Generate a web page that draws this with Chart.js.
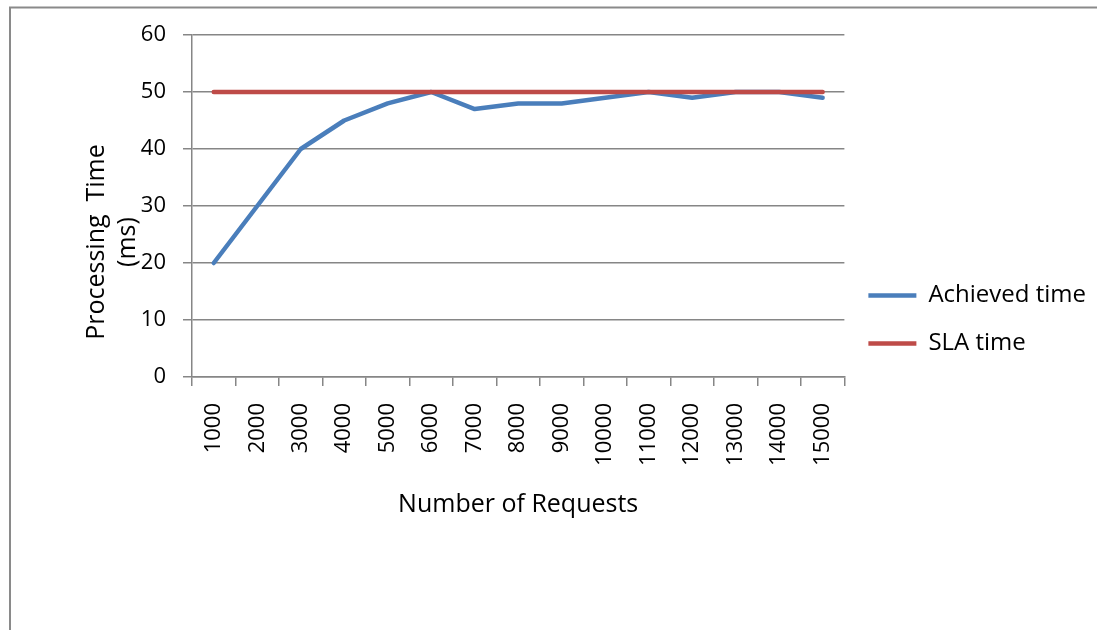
<!DOCTYPE html>
<html>
<head>
<meta charset="utf-8">
<script src="https://cdn.jsdelivr.net/npm/chart.js@4/dist/chart.umd.min.js"></script>
<style>
  html, body { margin: 0; padding: 0; background: #ffffff; }
  #wrap { width: 1097px; height: 630px; position: relative; }
</style>
</head>
<body>
<div id="wrap"><canvas id="c" width="1097" height="630"></canvas></div>
<script>
const categories = ['1000','2000','3000','4000','5000','6000','7000','8000','9000','10000','11000','12000','13000','14000','15000'];
const achievedTime = [20, 30, 40, 45, 48, 50, 47, 48, 48, 49, 50, 49, 50, 50, 49];
const slaTime = [50, 50, 50, 50, 50, 50, 50, 50, 50, 50, 50, 50, 50, 50, 50];
const yTitleLines = ['Processing  Time', '(ms)'];
const xTitle = 'Number of Requests';

const FONT = "'Open Sans', 'DejaVu Sans', sans-serif";
const GRID = '#868686';

const framePlugin = {
  id: 'frame',
  beforeDraw(chart) {
    const ctx = chart.ctx;
    ctx.save();
    ctx.fillStyle = '#ffffff';
    ctx.fillRect(0, 0, chart.width, chart.height);
    ctx.strokeStyle = '#8a8a8a';
    ctx.lineWidth = 2;
    ctx.beginPath();
    ctx.moveTo(10, chart.height + 5);
    ctx.lineTo(10, 7.5);
    ctx.lineTo(chart.width + 5, 7.5);
    ctx.stroke();
    ctx.restore();
  },
  afterDraw(chart) {
    const ctx = chart.ctx;
    ctx.save();
    ctx.fillStyle = '#000000';
    ctx.font = "25px " + FONT;
    ctx.textAlign = 'center';
    ctx.textBaseline = 'middle';
    const cy = 242;
    const xs = [97, 128];
    yTitleLines.forEach((t, i) => {
      ctx.save();
      ctx.translate(xs[i], cy);
      ctx.rotate(-Math.PI / 2);
      ctx.fillText(t, 0, 0);
      ctx.restore();
    });
    ctx.restore();
  }
};

new Chart(document.getElementById('c'), {
  type: 'line',
  data: {
    labels: categories,
    datasets: [
      {
        label: 'Achieved time',
        data: achievedTime,
        borderColor: '#4A7EBB',
        backgroundColor: '#4A7EBB',
        borderWidth: 4.5,
        borderCapStyle: 'round',
        borderJoinStyle: 'round',
        pointRadius: 0,
        tension: 0,
        order: 1
      },
      {
        label: 'SLA time',
        data: slaTime,
        borderColor: '#BE4B48',
        backgroundColor: '#BE4B48',
        borderWidth: 4.5,
        borderCapStyle: 'round',
        borderJoinStyle: 'round',
        pointRadius: 0,
        tension: 0,
        order: 0
      }
    ]
  },
  options: {
    responsive: false,
    animation: false,
    devicePixelRatio: 1,
    layout: { padding: { top: 35, left: 0, right: 1, bottom: 26 } },
    plugins: {
      tooltip: { enabled: false },
      legend: {
        position: 'right',
        align: 'center',
        labels: {
          font: { family: FONT, size: 24 },
          color: '#000000',
          usePointStyle: true,
          pointStyle: 'line',
          pointStyleWidth: 48,
          padding: 24,
          sort: (a, b) => a.datasetIndex - b.datasetIndex
        }
      }
    },
    scales: {
      x: {
        type: 'category',
        offset: true,
        grid: { display: true, offset: true, drawOnChartArea: false, drawTicks: true, tickLength: 9, color: GRID, lineWidth: 1.5 },
        border: { display: true, color: GRID, width: 1.5 },
        ticks: { font: { family: FONT, size: 22 }, color: '#000000', minRotation: 90, maxRotation: 90, padding: 17, autoSkip: false },
        title: { display: true, text: xTitle, font: { family: FONT, size: 25, lineHeight: 1.2 }, color: '#000000', padding: { top: 0, bottom: 84 } },
        afterFit(scale) { scale.height = 604 - 377; }
      },
      y: {
        min: 0,
        max: 60,
        grid: { display: true, drawTicks: true, tickLength: 9, color: GRID, lineWidth: 1.5 },
        border: { display: true, color: GRID, width: 1.5 },
        ticks: { stepSize: 10, font: { family: FONT, size: 22 }, color: '#000000', padding: 17 },
        afterFit(scale) { scale.width = 192; }
      }
    }
  },
  plugins: [framePlugin]
});
</script>
</body>
</html>
